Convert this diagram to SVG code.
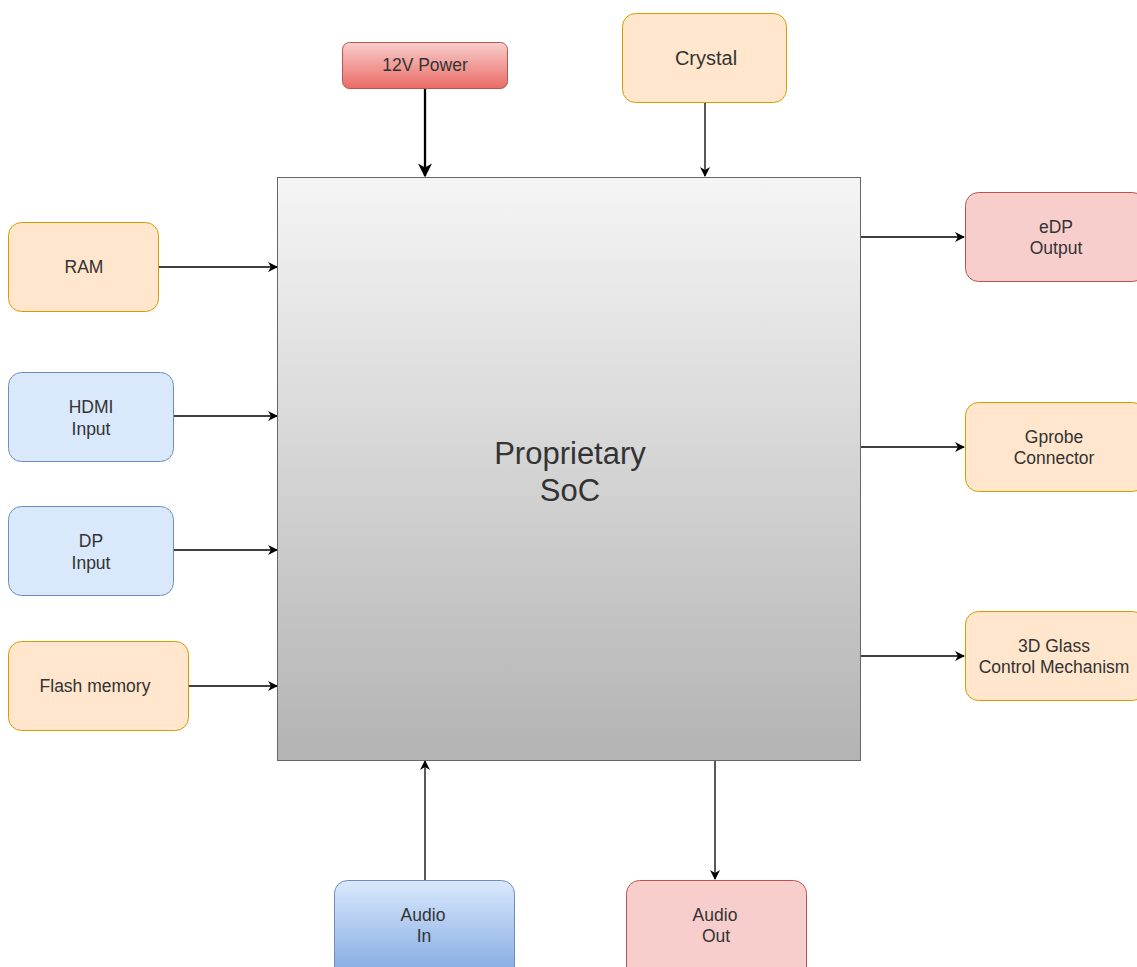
<svg xmlns="http://www.w3.org/2000/svg" width="1137" height="967" viewBox="0 0 1137 967">
<defs>
<linearGradient id="gSoc" x1="0" y1="0" x2="0" y2="1"><stop offset="0" stop-color="#f5f5f5"/><stop offset="1" stop-color="#b3b3b3"/></linearGradient>
<linearGradient id="gRed" x1="0" y1="0" x2="0" y2="1"><stop offset="0" stop-color="#f8cecc"/><stop offset="1" stop-color="#ea6b66"/></linearGradient>
<linearGradient id="gBlue" x1="0" y1="0" x2="0" y2="1"><stop offset="0" stop-color="#dae8fc"/><stop offset="1" stop-color="#7ea6e0"/></linearGradient>
<marker id="arr" viewBox="0 0 10 10" refX="9" refY="5" markerWidth="10" markerHeight="10" markerUnits="userSpaceOnUse" orient="auto"><path d="M0,0 L10,5 L0,10 L3,5 Z" fill="#000"/></marker>
<marker id="arrB" viewBox="0 0 10 10" refX="9" refY="5" markerWidth="14" markerHeight="14" markerUnits="userSpaceOnUse" orient="auto"><path d="M0,0 L10,5 L0,10 L3,5 Z" fill="#000"/></marker>
</defs>
<style>
text{font-family:"Liberation Sans",Arial,sans-serif;font-size:17.5px;fill:#333;text-anchor:middle}
.orange{fill:#ffe6cc;stroke:#d79b00}
.blue{fill:#dae8fc;stroke:#6c8ebf}
.pink{fill:#f8cecc;stroke:#b85450}
.conn{stroke:#000;stroke-width:1.3;fill:none;marker-end:url(#arr)}
</style>
<rect width="1137" height="967" fill="#fff"/>
<g id="connectors">
<path class="conn" d="M425,88 V176" style="stroke-width:2.3;marker-end:url(#arrB)"/>
<path class="conn" d="M705,102 V176"/>
<path class="conn" d="M158,267 H277"/>
<path class="conn" d="M173,416 H277"/>
<path class="conn" d="M173,550 H277"/>
<path class="conn" d="M188,686 H277"/>
<path class="conn" d="M861,237 H964"/>
<path class="conn" d="M861,447 H964"/>
<path class="conn" d="M861,656 H964"/>
<path class="conn" d="M425,880 V761"/>
<path class="conn" d="M715,760 V879"/>
</g>
<g id="soc"><rect x="277.5" y="177.5" width="583" height="583" fill="url(#gSoc)" stroke="#666"/>
<text x="570" y="464" style="font-size:31px">Proprietary</text><text x="570" y="501" style="font-size:31px">SoC</text></g>
<g id="power"><rect x="342.5" y="42.5" width="165" height="46" rx="7" fill="url(#gRed)" stroke="#b85450"/><text x="425" y="71">12V Power</text></g>
<g id="crystal"><rect class="orange" x="622.5" y="13.5" width="164" height="89" rx="13"/><text x="706" y="65" style="font-size:20px">Crystal</text></g>
<g id="ram"><rect class="orange" x="8.5" y="222.5" width="150" height="89" rx="13"/><text x="84" y="273">RAM</text></g>
<g id="hdmi"><rect class="blue" x="8.5" y="372.5" width="165" height="89" rx="13"/><text x="91" y="413">HDMI</text><text x="91" y="435">Input</text></g>
<g id="dp"><rect class="blue" x="8.5" y="506.5" width="165" height="89" rx="13"/><text x="91" y="547">DP</text><text x="91" y="569">Input</text></g>
<g id="flash"><rect class="orange" x="8.5" y="641.5" width="180" height="89" rx="13"/><text x="95" y="692">Flash memory</text></g>
<g id="edp"><rect class="pink" x="965.5" y="192.5" width="180" height="89" rx="13"/><text x="1056" y="233">eDP</text><text x="1056" y="254">Output</text></g>
<g id="gprobe"><rect class="orange" x="965.5" y="402.5" width="180" height="89" rx="13"/><text x="1054" y="443">Gprobe</text><text x="1054" y="464">Connector</text></g>
<g id="glass"><rect class="orange" x="965.5" y="611.5" width="180" height="89" rx="13"/><text x="1054" y="652">3D Glass</text><text x="1054" y="673">Control Mechanism</text></g>
<g id="audioin"><rect x="334.5" y="880.5" width="180" height="100" rx="13" fill="url(#gBlue)" stroke="#6c8ebf"/><text x="423" y="921">Audio</text><text x="424" y="942">In</text></g>
<g id="audioout"><rect class="pink" x="626.5" y="880.5" width="180" height="100" rx="13"/><text x="715" y="921">Audio</text><text x="716" y="942">Out</text></g>
</svg>
